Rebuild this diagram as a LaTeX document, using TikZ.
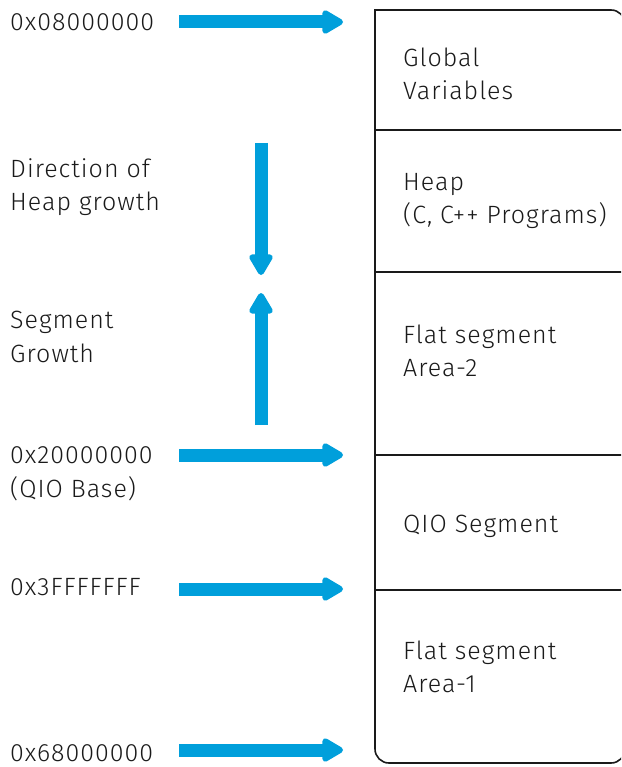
\documentclass[tikz,border=0pt]{standalone}
\usepackage{fontspec}
\setmainfont{Fira Sans}[UprightFont=* Light,LetterSpace=4]
\usetikzlibrary{arrows.meta}
\definecolor{hpblue}{HTML}{009FDB}
\definecolor{ink}{HTML}{1A1A1A}
\begin{document}
\begin{tikzpicture}[x=1pt,y=-1pt,
  lbl/.style={anchor=west,inner sep=0pt,align=left,text=ink,
    font=\fontsize{25}{33.5}\selectfont},
  bigarrow/.style={draw=hpblue,line width=13pt,
    -{Triangle[round,width=26pt,length=24pt]}},
  memline/.style={draw=ink,line width=1.6pt}]
\useasboundingbox (0,0) rectangle (621,767);

% memory map outline, its right side runs off the page
\begin{scope}
  \clip (0,0) rectangle (621,767);
  \draw[memline] (375,60) |- (500,10);
  \draw[memline,rounded corners=14] (500,10) -- (625,10) -- (625,763)
    -- (375,763) -- (375,60);
  \foreach \yy in {130,272,455,590} \draw[memline] (375,\yy) -- (625,\yy);
\end{scope}

% regions of the map
\node[lbl] (gv)   at (403,74)  {Global\\Variables};
\node[lbl] (heap) at (403,201) {Heap\\(C, C++ Programs)};
\node[lbl] (fs2)  at (403,351) {Flat segment\\Area-2};
\node[lbl] (qio)  at (403,526) {QIO Segment};
\node[lbl] (fs1)  at (403,667) {Flat segment\\Area-1};

% addresses and notes on the left
\node[lbl] (a1) at (10,22)  {0x08000000};
\node[lbl] (dh) at (10,187) {Direction of\\Heap growth};
\node[lbl] (sg) at (10,337) {Segment\\Growth};
\node[lbl] (a2) at (10,474) {0x20000000\\(QIO Base)};
\node[lbl] (a3) at (10,587) {0x3FFFFFFF};
\node[lbl] (a4) at (10,753) {0x68000000};

% arrow end points
\coordinate (s1) at (179,22);  \coordinate (t1) at (343,22);
\coordinate (s2) at (179,455); \coordinate (t2) at (343,455);
\coordinate (s3) at (179,589); \coordinate (t3) at (343,589);
\coordinate (s4) at (179,750); \coordinate (t4) at (343,750);
\coordinate (hd0) at (261,143); \coordinate (hd1) at (261,275);
\coordinate (sg0) at (261,425); \coordinate (sg1) at (261,293);

\draw[bigarrow] (s1) -- (t1);
\draw[bigarrow] (s2) -- (t2);
\draw[bigarrow] (s3) -- (t3);
\draw[bigarrow] (s4) -- (t4);
\draw[bigarrow] (hd0) -- (hd1);
\draw[bigarrow] (sg0) -- (sg1);
\end{tikzpicture}
\end{document}
